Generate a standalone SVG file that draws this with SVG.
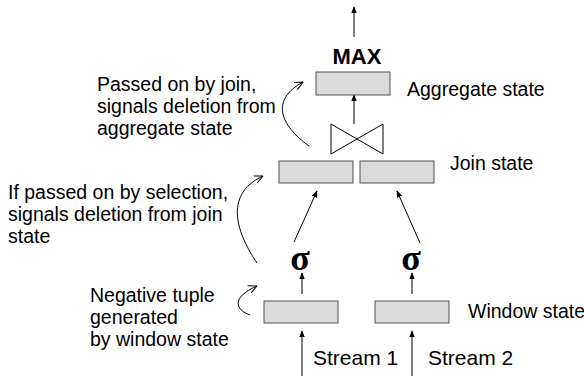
<svg xmlns="http://www.w3.org/2000/svg" width="584" height="376" viewBox="0 0 584 376">
<defs>
<style>
.box{fill:#dadada;stroke:#505050;stroke-width:1}
.ln{fill:none;stroke:#000;stroke-width:1}
.lbl{font-family:"Liberation Sans",Arial,sans-serif;font-size:19.5px;fill:#000}
.st{font-family:"Liberation Sans",Arial,sans-serif;font-size:21px;fill:#000}
.sig{font-family:"Liberation Serif","Times New Roman",serif;font-size:36px;font-weight:bold;fill:#000}
</style>
<marker id="ah" viewBox="0 0 10 10" refX="9" refY="5" markerWidth="7" markerHeight="7" orient="auto" markerUnits="userSpaceOnUse">
<path d="M0,1 L10,5 L0,9 Z" fill="#000"/>
</marker>
<marker id="av" viewBox="0 0 10 10" refX="9.5" refY="5" markerWidth="9" markerHeight="9" orient="auto" markerUnits="userSpaceOnUse">
<path d="M0,0.5 L9.5,5 L0,9.5" fill="none" stroke="#000" stroke-width="1.1"/>
</marker>
</defs>
<rect width="584" height="376" fill="#fff"/>

<g id="connectors">
<line class="ln" x1="354" y1="37" x2="354" y2="7" marker-end="url(#ah)"/>
<line class="ln" x1="354" y1="124" x2="354" y2="95" marker-end="url(#ah)"/>
<line class="ln" x1="294" y1="242" x2="317" y2="191" marker-end="url(#ah)"/>
<line class="ln" x1="420" y1="243" x2="397" y2="191" marker-end="url(#ah)"/>
<line class="ln" x1="302" y1="294" x2="302" y2="273" marker-end="url(#ah)"/>
<line class="ln" x1="412" y1="294" x2="412" y2="273" marker-end="url(#ah)"/>
<line class="ln" x1="302" y1="376" x2="302" y2="331" marker-end="url(#ah)"/>
<line class="ln" x1="412" y1="376" x2="412" y2="331" marker-end="url(#ah)"/>
<path class="ln" d="M309,146 C280,125 270,100 303,82" marker-end="url(#av)"/>
<path class="ln" d="M257,263 C238,235 222,195 263,176" marker-end="url(#av)"/>
<path class="ln" d="M250,315 C236,310 230,298 257,286" marker-end="url(#av)"/>
</g>

<g id="max">
<text x="357" y="64" text-anchor="middle" font-family="Liberation Sans,Arial,sans-serif" font-size="22" font-weight="bold">MAX</text>
</g>
<g id="aggregate-state">
<rect class="box" x="316" y="72" width="74" height="23"/>
<text class="lbl" x="407" y="96">Aggregate state</text>
</g>
<g id="join">
<path class="ln" d="M331,124 L331,154 L383,124 L383,154 Z"/>
</g>
<g id="join-state">
<rect class="box" x="279" y="161" width="74" height="22"/>
<rect class="box" x="360" y="161" width="74" height="22"/>
<text class="lbl" x="450" y="170">Join state</text>
</g>
<g id="sigma1"><text class="sig" x="300" y="270" text-anchor="middle">σ</text></g>
<g id="sigma2"><text class="sig" x="411" y="270" text-anchor="middle">σ</text></g>
<g id="window-state">
<rect class="box" x="264" y="301" width="74" height="22"/>
<rect class="box" x="375" y="301" width="74" height="22"/>
<text class="lbl" x="468" y="318">Window state</text>
</g>
<g id="streams">
<text class="st" x="313" y="365">Stream 1</text>
<text class="st" x="428" y="365">Stream 2</text>
</g>
<g id="note-join">
<text class="lbl" x="97" y="91">Passed on by join,</text>
<text class="lbl" x="97" y="113">signals deletion from</text>
<text class="lbl" x="97" y="135">aggregate state</text>
</g>
<g id="note-selection">
<text class="lbl" x="8" y="199">If passed on by selection,</text>
<text class="lbl" x="8" y="221">signals deletion from join</text>
<text class="lbl" x="8" y="243">state</text>
</g>
<g id="note-window">
<text class="lbl" x="90" y="302">Negative tuple</text>
<text class="lbl" x="90" y="324">generated</text>
<text class="lbl" x="90" y="346">by window state</text>
</g>
</svg>
